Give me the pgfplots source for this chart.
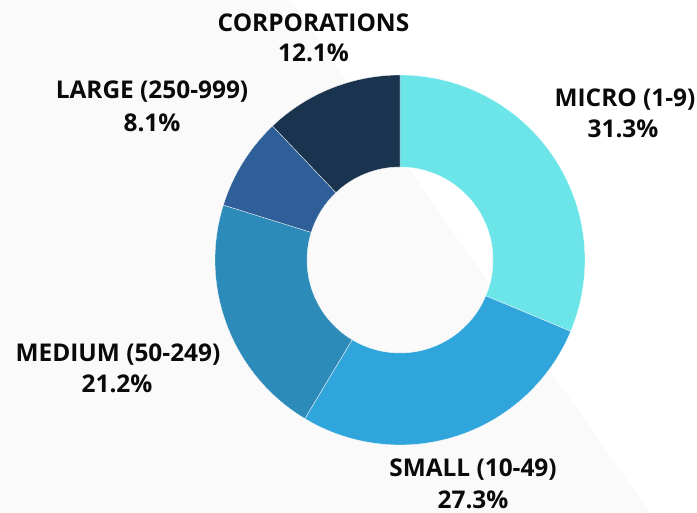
\documentclass[border=0pt]{standalone}
\usepackage{pgfplots}
\pgfplotsset{compat=1.18}
\usepackage{fontspec}
\setmainfont{Open Sans}
\definecolor{cMicro}{HTML}{6BE5E8}
\definecolor{cSmall}{HTML}{2FA5DC}
\definecolor{cMedium}{HTML}{2D8BBA}
\definecolor{cLarge}{HTML}{2F5F98}
\definecolor{cCorp}{HTML}{1A344F}
\definecolor{bgGray}{HTML}{FAFAFA}
\definecolor{txt}{HTML}{0A0A0A}
\newcommand{\lbl}{\fontsize{24.5}{28}\selectfont\bfseries}
\begin{document}
\begin{tikzpicture}
\begin{axis}[
    width=697bp, height=513bp, scale only axis,
    xmin=0, xmax=697, ymin=0, ymax=513,
    hide axis, clip=false,
]
% background
\fill[white] (axis cs:0,0) rectangle (axis cs:697,513);
\fill[bgGray] (axis cs:0,0) -- (axis cs:0,513) -- (axis cs:290,513) -- (axis cs:650,0) -- cycle;
% donut slices (shares in %), clockwise from the top
\gdef\sa{90}
\foreach \v/\c in {31.3/cMicro, 27.3/cSmall, 21.2/cMedium, 8.1/cLarge, 12.1/cCorp}{
    \pgfmathsetmacro\ea{\sa-3.6*\v}
    \pgfmathsetmacro\xo{400+185*cos(\sa)}
    \pgfmathsetmacro\yo{253+185*sin(\sa)}
    \pgfmathsetmacro\xi{400+93*cos(\ea)}
    \pgfmathsetmacro\yi{253+93*sin(\ea)}
    \edef\temp{\noexpand\filldraw[fill=\c, draw=white, line width=0.3bp]
        (axis cs:\xo,\yo) arc[start angle=\sa, end angle=\ea, radius=185]
        -- (axis cs:\xi,\yi) arc[start angle=\ea, end angle=\sa, radius=93] -- cycle;}
    \temp
    \xdef\sa{\ea}
}
% labels
\tikzset{lab/.style={anchor=base, inner sep=0pt, font=\lbl, text=txt}}
\node[lab] at (axis cs:625,406) {MICRO (1-9)};
\node[lab] at (axis cs:623,375) {31.3\%};
\node[lab] at (axis cs:473,36) {SMALL (10-49)};
\node[lab] at (axis cs:473,5) {27.3\%};
\node[lab] at (axis cs:118,151) {MEDIUM (50-249)};
\node[lab] at (axis cs:117,120) {21.2\%};
\node[lab] at (axis cs:152,414) {LARGE (250-999)};
\node[lab] at (axis cs:152,381) {8.1\%};
\node[lab] at (axis cs:313.5,481) {CORPORATIONS};
\node[lab] at (axis cs:313.5,451) {12.1\%};
\end{axis}
\end{tikzpicture}
\end{document}
